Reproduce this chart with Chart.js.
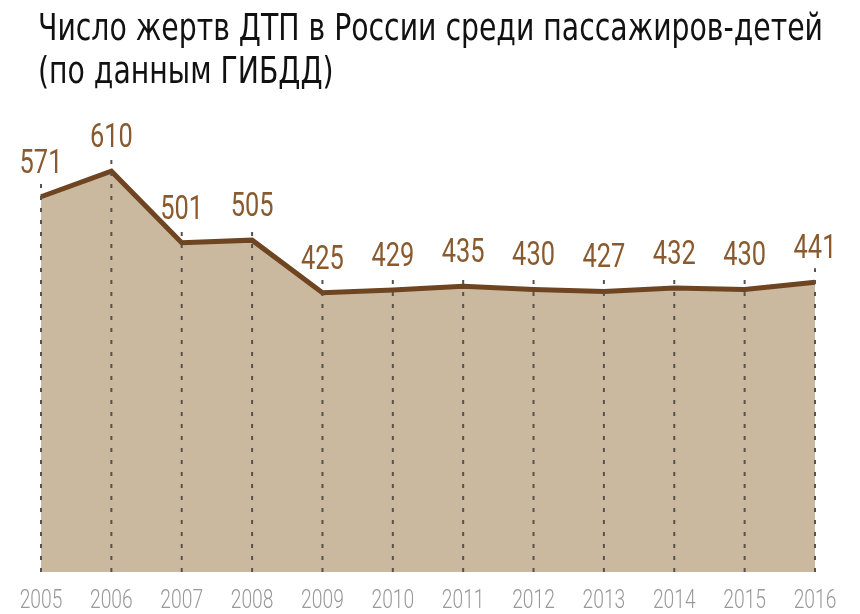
<!DOCTYPE html>
<html>
<head>
<meta charset="utf-8">
<script src="https://cdn.jsdelivr.net/npm/chart.js@4.4.1/dist/chart.umd.min.js"></script>
<style>
  html, body { margin: 0; padding: 0; background: #fff; }
  canvas { display: block; }
</style>
</head>
<body>
<canvas id="c" width="860" height="614"></canvas>
<script>
const titleLines = ["Число жертв ДТП в России среди пассажиров-детей", "(по данным ГИБДД)"];
const years = ["2005","2006","2007","2008","2009","2010","2011","2012","2013","2014","2015","2016"];
const victims = [571, 610, 501, 505, 425, 429, 435, 430, 427, 432, 430, 441];

const FONT = '"DejaVu Sans Condensed", "DejaVu Sans", sans-serif';
const NUMFONT = 'Roboto, "Liberation Sans", sans-serif';

function narrowText(ctx, text, x, y, sx) {
  ctx.save();
  ctx.translate(x, y);
  ctx.scale(sx, 1);
  ctx.fillText(text, 0, 0);
  ctx.restore();
}

const decor = {
  id: 'decor',
  afterDatasetsDraw(chart) {
    const ctx = chart.ctx;
    const meta = chart.getDatasetMeta(0);
    const bottom = chart.chartArea.bottom;
    ctx.save();
    // dashed verticals
    ctx.strokeStyle = '#57524d';
    ctx.lineWidth = 2;
    ctx.setLineDash([4, 8]);
    meta.data.forEach(pt => {
      ctx.beginPath();
      ctx.moveTo(pt.x, bottom);
      ctx.lineTo(pt.x, pt.y - 14);
      ctx.stroke();
    });
    ctx.setLineDash([]);
    // value labels
    ctx.fillStyle = '#8a5a2e';
    ctx.font = '400 33px ' + NUMFONT;
    ctx.textAlign = 'center';
    ctx.textBaseline = 'alphabetic';
    meta.data.forEach((pt, i) => {
      narrowText(ctx, String(victims[i]), pt.x, pt.y - 24, 0.77);
    });
    // x tick labels
    const xs = chart.scales.x;
    ctx.fillStyle = '#999999';
    ctx.font = '300 25px ' + NUMFONT;
    years.forEach((y, i) => {
      narrowText(ctx, y, xs.getPixelForValue(i), 608, 0.77);
    });
    // title
    ctx.fillStyle = '#111';
    ctx.font = '38px ' + FONT;
    ctx.textAlign = 'left';
    const w = ctx.measureText(titleLines[0]).width;
    const sx = 785 / w;
    narrowText(ctx, titleLines[0], 38, 40, sx);
    narrowText(ctx, titleLines[1], 38, 83, sx);
    ctx.restore();
  }
};

new Chart(document.getElementById('c'), {
  type: 'line',
  data: {
    labels: years,
    datasets: [{
      data: victims,
      borderColor: '#6f4421',
      borderWidth: 5,
      backgroundColor: '#cab99e',
      fill: 'origin',
      tension: 0,
      pointRadius: 0,
      borderJoinStyle: 'miter'
    }]
  },
  options: {
    responsive: false,
    animation: false,
    devicePixelRatio: 1,
    layout: { padding: { left: 41, right: 45, top: 112, bottom: 42 } },
    plugins: { legend: { display: false }, tooltip: { enabled: false }, title: { display: false } },
    scales: {
      x: { display: false, offset: false },
      y: { display: false, min: 0, max: 700 }
    }
  },
  plugins: [decor]
});
</script>
</body>
</html>
